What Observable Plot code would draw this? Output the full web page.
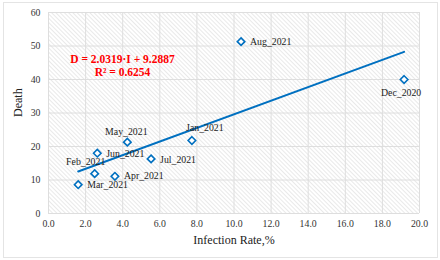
<!DOCTYPE html>
<html><head><meta charset="utf-8">
<script src="https://cdn.jsdelivr.net/npm/d3@7"></script>
<script src="https://cdn.jsdelivr.net/npm/@observablehq/plot@0.6"></script>
<style>
body{margin:0;background:#fff;}
#chart{position:relative;width:440px;height:260px;}
#chart .border{position:absolute;left:3px;top:2px;width:433px;height:254px;border:1px solid #e4e4e4;pointer-events:none;}
</style>
</head><body><div id="chart"><div class="border"></div></div>
<script>
const months = ["Dec_2020","Jan_2021","Feb_2021","Mar_2021","Apr_2021","May_2021","Jun_2021","Jul_2021","Aug_2021"];
const infectionRate = [19.17, 7.73, 2.49, 1.60, 3.58, 4.25, 2.63, 5.53, 10.38];
const deaths = [40.0, 21.8, 11.9, 8.6, 11.1, 21.3, 18.0, 16.3, 51.3];
const xTicks = [0, 2, 4, 6, 8, 10, 12, 14, 16, 18, 20];
const yTicks = [0, 10, 20, 30, 40, 50, 60];
const slope = 2.0319, intercept = 9.2887, rSquared = 0.6254;
const equationText = "D = 2.0319·I + 9.2887\nR² = 0.6254";

// label placement (style only)
const labelPlace = {
  "Dec_2020": {dx: -3, dy: 13, anchor: "middle"},
  "Jan_2021": {dx: 13, dy: -13, anchor: "middle"},
  "Feb_2021": {dx: -9, dy: -12, anchor: "middle"},
  "Mar_2021": {dx: 9, dy: 0, anchor: "start"},
  "Apr_2021": {dx: 9, dy: 0, anchor: "start"},
  "May_2021": {dx: -1, dy: -10, anchor: "middle"},
  "Jun_2021": {dx: 9, dy: 1, anchor: "start"},
  "Jul_2021": {dx: 9, dy: 1, anchor: "start"},
  "Aug_2021": {dx: 9, dy: 0, anchor: "start"}
};

const data = months.map((m, i) => ({month: m, x: infectionRate[i], y: deaths[i]}));
const xMin = d3.min(infectionRate), xMax = d3.max(infectionRate);
const trend = [xMin, xMax].map(x => ({x, y: slope * x + intercept}));

const font = "Liberation Serif";
const blue = "#0070c0";

const labelMarks = Object.entries(labelPlace).map(([m, p]) =>
  Plot.text(data.filter(d => d.month === m), {
    x: "x", y: "y", text: "month", dx: p.dx, dy: p.dy, textAnchor: p.anchor,
    fontSize: 9.8, fill: "#222", fontFamily: font
  })
);

const chart = Plot.plot({
  width: 440, height: 260,
  marginLeft: 48, marginRight: 21, marginTop: 12, marginBottom: 47,
  style: {fontFamily: font, background: "transparent", color: "#333"},
  x: {domain: [0, 20], ticks: xTicks, tickFormat: d => d.toFixed(1), label: null},
  y: {domain: [0, 60], ticks: yTicks, label: null},
  marks: [
    Plot.frame({fill: "url(#hatch)", stroke: null}),
    Plot.gridX(xTicks, {stroke: "#dedede", strokeOpacity: 1}),
    Plot.gridY(yTicks, {stroke: "#dedede", strokeOpacity: 1}),
    Plot.axisX(xTicks, {tickSize: 0, tickPadding: 7, fontSize: 9.8, tickFormat: d => d.toFixed(1), label: null, fill: "#333", fontFamily: font}),
    Plot.axisY(yTicks, {tickSize: 0, tickPadding: 8, fontSize: 9.8, label: null, fill: "#333", fontFamily: font}),
    Plot.text(["Infection Rate,%"], {frameAnchor: "bottom", dy: 27, lineAnchor: "middle", fontSize: 12, fill: "#222", fontFamily: font}),
    Plot.text(["Death"], {frameAnchor: "left", dx: -30, dy: 4, rotate: -90, lineAnchor: "middle", fontSize: 12, fill: "#222", fontFamily: font}),
    Plot.line(trend, {x: "x", y: "y", stroke: blue, strokeWidth: 2}),
    Plot.dot(data, {x: "x", y: "y", symbol: "diamond2", r: 3.4, stroke: blue, fill: "white", strokeWidth: 1.6}),
    ...labelMarks,
    Plot.text([equationText], {frameAnchor: "top-left", dx: 74, dy: 53, textAnchor: "middle", lineAnchor: "middle", lineHeight: 1.12, fontSize: 11.5, fontWeight: "bold", fill: "#ff0000", fontFamily: font})
  ]
});

const svg = d3.select(chart);
const defs = svg.insert("defs", ":first-child");
const pat = defs.append("pattern").attr("id", "hatch").attr("patternUnits", "userSpaceOnUse")
  .attr("width", 3).attr("height", 3).attr("patternTransform", "rotate(-45)");
pat.append("rect").attr("width", 3).attr("height", 3).attr("fill", "#ffffff");
pat.append("line").attr("x1", 0.5).attr("y1", 0).attr("x2", 0.5).attr("y2", 3).attr("stroke", "#e6e6e6").attr("stroke-width", 0.9);

document.getElementById("chart").prepend(chart);
</script>
</body></html>
